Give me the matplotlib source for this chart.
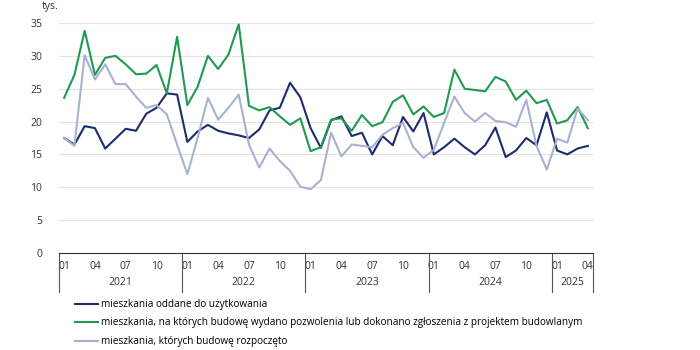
import numpy as np
import matplotlib
matplotlib.use("Agg")
import matplotlib.pyplot as plt
import matplotlib.transforms as mtransforms

plt.rcParams['font.family'] = ['Open Sans', 'DejaVu Sans']

years = [2021, 2022, 2023, 2024, 2025]
months = [(y, m) for y in years for m in range(1, 13) if not (y == 2025 and m > 4)]

oddane = [17.5, 16.5, 19.3, 19.0, 15.9, 17.4, 18.9, 18.6, 21.2, 22.1, 24.3, 24.1,
          16.9, 18.5, 19.5, 18.6, 18.2, 17.9, 17.5, 18.8, 21.7, 22.1, 25.9, 23.7,
          19.0, 16.0, 20.2, 20.8, 17.8, 18.3, 15.0, 17.8, 16.4, 20.7, 18.5, 21.3,
          15.0, 16.1, 17.4, 16.1, 15.0, 16.4, 19.1, 14.6, 15.6, 17.5, 16.4, 21.4,
          15.6, 15.0, 15.9, 16.3]
pozwolenia = [23.6, 27.1, 33.8, 27.1, 29.7, 30.0, 28.7, 27.2, 27.3, 28.6, 24.3, 32.9,
              22.5, 25.3, 30.0, 28.0, 30.2, 34.8, 22.4, 21.7, 22.2, 20.8, 19.5, 20.5,
              15.5, 16.1, 20.3, 20.5, 18.6, 21.0, 19.3, 19.9, 23.0, 24.0, 21.1, 22.3,
              20.7, 21.3, 27.9, 25.0, 24.8, 24.6, 26.8, 26.1, 23.3, 24.7, 22.8, 23.3,
              19.7, 20.2, 22.2, 19.0]
rozpoczete = [17.5, 16.3, 30.1, 26.4, 28.7, 25.7, 25.7, 23.8, 22.1, 22.5, 21.1, 16.5,
              12.0, 17.5, 23.6, 20.3, 22.1, 24.1, 16.5, 13.0, 15.9, 14.0, 12.5, 10.1,
              9.7, 11.1, 18.3, 14.7, 16.5, 16.3, 16.1, 18.0, 19.0, 19.8, 16.1, 14.5,
              15.7, 19.8, 23.8, 21.3, 20.0, 21.3, 20.1, 19.9, 19.2, 23.3, 16.3, 12.7,
              17.4, 16.8, 22.0, 20.2]

labels = ['mieszkania oddane do użytkowania',
          'mieszkania, na których budowę wydano pozwolenia lub dokonano zgłoszenia z projektem budowlanym',
          'mieszkania, których budowę rozpoczęto']
colors = ['#1c2d6e', '#1f9a50', '#aab1d0']

x = np.arange(len(months))

fig = plt.figure(figsize=(7, 3.5), dpi=100)
ax = fig.add_axes([59 / 700, 1 - 253 / 350, 534 / 700, 230 / 350])

for series, lab, col in zip([oddane, pozwolenia, rozpoczete], labels, colors):
    ax.plot(x, series, color=col, lw=1.5, label=lab)

ax.set_xlim(-0.5, len(months) - 0.5)
ax.set_ylim(0, 35)
ax.set_yticks(range(0, 36, 5))
ax.grid(axis='y', color='#e3e3e3', lw=0.8)
ax.set_axisbelow(True)
for s in ['left', 'right', 'top']:
    ax.spines[s].set_visible(False)
ax.spines['bottom'].set_color('#333333')
ax.spines['bottom'].set_linewidth(0.8)

tick_idx = [i for i, (y, m) in enumerate(months) if m in (1, 4, 7, 10)]
ax.set_xticks(tick_idx)
ax.set_xticklabels([f"{months[i][1]:02d}" for i in tick_idx])
ax.tick_params(axis='both', length=0, labelsize=7.5, colors='#333333')
ax.tick_params(axis='x', pad=6)
ax.tick_params(axis='y', pad=12)

trans = mtransforms.blended_transform_factory(ax.transData, ax.transAxes)
bounds = [i - 0.5 for i, (y, m) in enumerate(months) if m == 1] + [len(months) - 0.5]
for b in bounds:
    ax.plot([b, b], [0, -0.17], color='#555555', lw=0.8, transform=trans, clip_on=False)
for y0, y1, yr in zip(bounds[:-1], bounds[1:], years):
    ax.text((y0 + y1) / 2, -0.13, str(yr), transform=trans, ha='center', va='center',
            fontsize=7.5, color='#333333')

fig.text(42 / 700, 1 - 6 / 350, 'tys.', fontsize=7.5, color='#333333', ha='left', va='center')

fig.legend(loc='upper left', bbox_to_anchor=(75 / 700, 1 - 299 / 350), frameon=False,
           fontsize=7.2, handlelength=2.3, handletextpad=0.3, labelspacing=0.75,
           borderaxespad=0, borderpad=0)

fig.savefig('out.png', dpi=100)
